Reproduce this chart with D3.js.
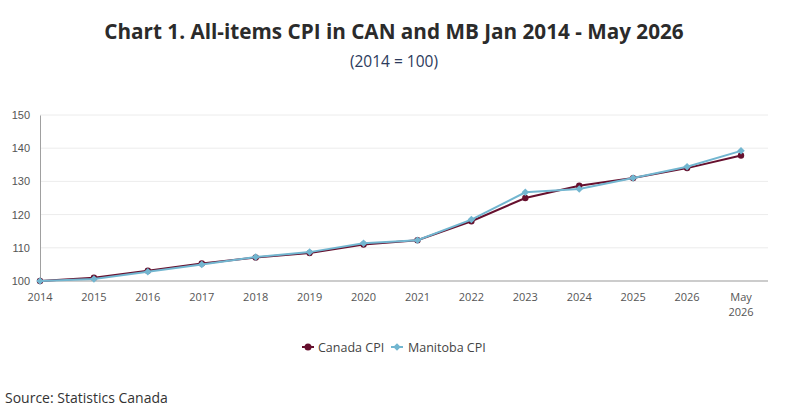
<!DOCTYPE html>
<html>
<head>
<meta charset="utf-8">
<script src="https://cdn.jsdelivr.net/npm/d3@7"></script>
<style>
  body { margin: 0; background: #fff; }
  svg { display: block; font-family: "Open Sans", "Noto Sans", sans-serif; }
</style>
</head>
<body>
<div id="container"></div>
<script>
// Chart data
const periods = ["2014", "2015", "2016", "2017", "2018", "2019", "2020",
  "2021", "2022", "2023", "2024", "2025", "2026", "May 2026"];
const canadaCPI = [100, 101.0, 103.1, 105.3, 107.1, 108.4, 111.0,
  112.3, 118.0, 125.0, 128.7, 131.0, 134.0, 137.8];
const manitobaCPI = [100, 100.6, 102.8, 105.0, 107.2, 108.7, 111.4,
  112.3, 118.5, 126.7, 127.7, 131.0, 134.4, 139.2];
const yTicks = [100, 110, 120, 130, 140, 150];

const width = 800;
const height = 420;
const marginLeft = 40;
const marginTop = 115;
const plotBottom = 281;
const axisRight = 768;

const canadaColor = "#66102e";
const manitobaColor = "#72b6d0";

const svg = d3.create("svg").attr("width", width).attr("height", height);

const x = d3.scalePoint()
  .domain(periods)
  .range([marginLeft, 741]);

const y = d3.scaleLinear()
  .domain([100, 150])
  .range([plotBottom, marginTop]);

// Gridlines
svg.append("g")
  .selectAll("line")
  .data(yTicks.slice(1))
  .join("line")
  .attr("x1", marginLeft)
  .attr("x2", axisRight)
  .attr("y1", d => y(d))
  .attr("y2", d => y(d))
  .attr("stroke", "#ececec")
  .attr("stroke-width", 1);

// Y axis
const yAxis = svg.append("g")
  .attr("transform", `translate(${marginLeft},0)`)
  .call(d3.axisLeft(y).tickValues(yTicks).tickSize(0).tickPadding(10));
yAxis.select(".domain").attr("stroke", "#a0a0a0");
yAxis.selectAll("text")
  .attr("fill", "#555")
  .style("font-size", "11px");

// X axis line
svg.append("line")
  .attr("x1", marginLeft)
  .attr("x2", axisRight)
  .attr("y1", plotBottom)
  .attr("y2", plotBottom)
  .attr("stroke", "#9a9a9a")
  .attr("stroke-width", 1.2);

// X tick labels, the last one split over two lines
const xLabelGroup = svg.append("g");
periods.forEach(p => {
  p.split(" ").forEach((part, i) => {
    xLabelGroup.append("text")
      .attr("x", x(p))
      .attr("y", 301 + i * 15)
      .attr("text-anchor", "middle")
      .attr("fill", "#555")
      .style("font-size", "11px")
      .text(part);
  });
});

const line = d3.line()
  .x((d, i) => x(periods[i]))
  .y(d => y(d));

// Canada series
svg.append("path")
  .datum(canadaCPI)
  .attr("fill", "none")
  .attr("stroke", canadaColor)
  .attr("stroke-width", 2)
  .attr("d", line);
svg.append("g")
  .selectAll("circle")
  .data(canadaCPI)
  .join("circle")
  .attr("cx", (d, i) => x(periods[i]))
  .attr("cy", d => y(d))
  .attr("r", 3.2)
  .attr("fill", canadaColor);

// Manitoba series
svg.append("path")
  .datum(manitobaCPI)
  .attr("fill", "none")
  .attr("stroke", manitobaColor)
  .attr("stroke-width", 2)
  .attr("d", line);
const diamond = d3.symbol().type(d3.symbolDiamond2).size(36);
svg.append("g")
  .selectAll("path")
  .data(manitobaCPI)
  .join("path")
  .attr("transform", (d, i) => `translate(${x(periods[i])},${y(d)})`)
  .attr("d", diamond)
  .attr("fill", manitobaColor);

// Title and subtitle
svg.append("text")
  .attr("x", 394)
  .attr("y", 39)
  .attr("text-anchor", "middle")
  .attr("fill", "#2b2b2b")
  .style("font-size", "20.7px")
  .style("font-weight", "bold")
  .text("Chart 1. All-items CPI in CAN and MB Jan 2014 - May 2026");

svg.append("text")
  .attr("x", 394)
  .attr("y", 67)
  .attr("text-anchor", "middle")
  .attr("fill", "#2c3b5c")
  .style("font-size", "15.5px")
  .text("(2014 = 100)");

// Legend
const legend = svg.append("g").attr("transform", "translate(0,347)");
legend.append("line")
  .attr("x1", 302).attr("x2", 314).attr("y1", 0).attr("y2", 0)
  .attr("stroke", canadaColor).attr("stroke-width", 2);
legend.append("circle")
  .attr("cx", 308).attr("cy", 0).attr("r", 3.5).attr("fill", canadaColor);
legend.append("text")
  .attr("x", 318).attr("y", 4.5)
  .attr("fill", "#444").style("font-size", "12.5px")
  .text("Canada CPI");
legend.append("line")
  .attr("x1", 391).attr("x2", 403).attr("y1", 0).attr("y2", 0)
  .attr("stroke", manitobaColor).attr("stroke-width", 2);
legend.append("path")
  .attr("transform", "translate(397,0)")
  .attr("d", diamond)
  .attr("fill", manitobaColor);
legend.append("text")
  .attr("x", 408).attr("y", 4.5)
  .attr("fill", "#444").style("font-size", "12.5px")
  .text("Manitoba CPI");

// Source
svg.append("text")
  .attr("x", 5)
  .attr("y", 403)
  .attr("fill", "#333")
  .style("font-size", "14px")
  .text("Source: Statistics Canada");

document.getElementById("container").append(svg.node());
</script>
</body>
</html>
